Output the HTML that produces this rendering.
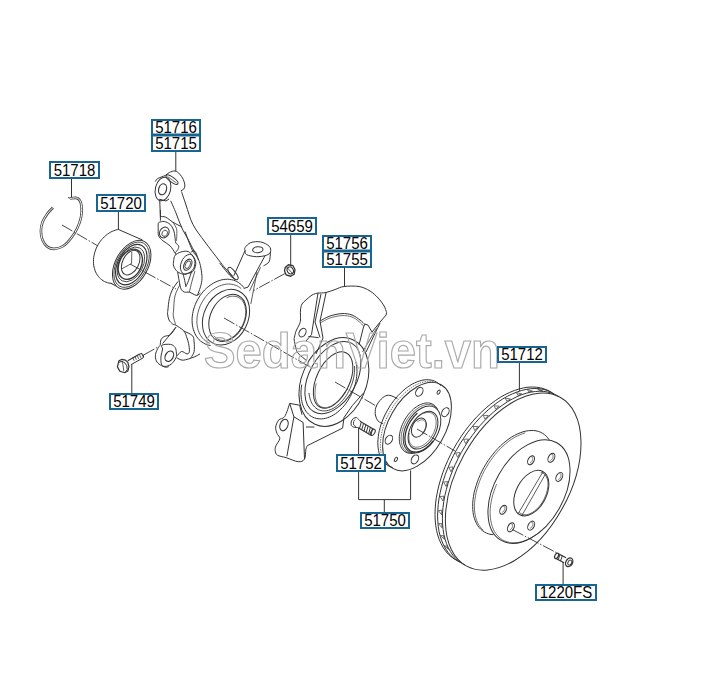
<!DOCTYPE html>
<html><head><meta charset="utf-8"><style>
html,body{margin:0;padding:0;background:#fff;width:709px;height:699px;overflow:hidden}
svg{display:block}
text{font-family:"Liberation Sans",sans-serif;font-size:15px;fill:#000}
.lbl{opacity:0.99}
</style></head><body>
<svg width="709" height="699" viewBox="0 0 709 699">
<g fill="none" stroke="#333" stroke-width="1">
<path d="M175.8 152 L175.8 171.4" />
<path d="M71.5 179 L71.5 197.5" />
<path d="M118.4 212 L118.4 229.3" />
<path d="M290.7 235 L290.7 265.7" />
<path d="M344.5 268 L344.5 286.5" />
<path d="M519.4 363 L519.4 390.9" />
<path d="M131.8 364.6 L131.8 393" />
<path d="M358.6 427.7 L358.6 454" />
<path d="M563.1 562 L563.1 584" />
<path d="M410.6 470.4 L410.6 499.6" />
<path d="M384.3 499.6 L384.3 512" />
<path d="M358.6 472 L358.6 499.6 L410.6 499.6" />
<path d="M68 197.5 L71.5 198.8" />
<path d="M155.2 181.6 C155.6 181.1 156.4 179.5 157.4 178.7 C158.4 177.9 160.1 177.6 161.4 177 C162.8 176.4 164.2 176.1 165.5 175.3 C166.8 174.5 167.9 173.1 169.5 172.4 C171.1 171.7 173.5 170.7 175.2 171 C176.9 171.3 178.5 172.8 179.8 174.2 C181.1 175.6 182.3 177.5 183.2 179.3 C184 181.1 184.8 183.4 184.9 185 C185 186.6 184.5 188 183.8 189 C183.1 190 181.4 190.5 180.9 190.8" />
<ellipse cx="163" cy="189" rx="12" ry="7.6" transform="rotate(-76 163 189)" />
<ellipse cx="162.6" cy="189.3" rx="5.6" ry="3.9" transform="rotate(-72 162.6 189.3)" stroke-width="1.2"/>
<ellipse cx="172" cy="179.6" rx="7.2" ry="2.4" transform="rotate(36 172 179.6)" />
<path d="M167.5 176.5 L176.5 183" stroke-width="0.7"/>
<path d="M159.7 199.3 L166 201 L169 199" />
<path d="M159.7 199.3 L160.4 217.2" />
<path d="M181.5 191.5 C182.2 193.8 184.1 199.5 186 205 C187.9 210.5 189.7 218.2 192.9 224.4 C196.1 230.6 200.7 236.1 205 242 C209.3 247.9 215.4 255.7 218.7 260 C222 264.3 222.6 265.2 225 268 C227.4 270.8 231.7 275.1 233 276.5" />
<path d="M170.7 200.8 C171.6 202.8 174.2 208.6 176 213 C177.8 217.4 179.2 222.2 181.5 227.2 C183.8 232.2 187.2 237.5 190 243 C192.8 248.5 197.2 257.2 198.6 260" />
<path d="M160.4 210 L160.4 220.7" />
<path d="M160.4 216.4 C161.3 216.6 163.7 216.2 165.7 217.2 C167.8 218.1 170.2 220.5 172.9 222.2 C175.6 223.8 180.6 226.3 182.2 227.2" />
<path d="M159.3 222.2 C159.1 222.4 158.4 222.3 158.2 223.6 C158.1 224.9 158.2 228 158.2 230 C158.3 232.1 157.8 234 158.6 235.8 C159.4 237.6 161 239.1 162.9 240.8 C164.8 242.4 168 243.8 170 245.8 C172.1 247.8 174 251.4 175 252.9 C176.1 254.5 176.2 254.7 176.5 255" />
<path d="M159.3 222.2 C160.1 222.1 162.5 221.1 164.3 221.5 C166.1 221.8 168.5 222.9 170 224.3 C171.6 225.8 172.8 227.9 173.6 230 C174.4 232.2 174.7 235.1 175 237.2 C175.4 239.3 175.2 241.5 175.8 242.9 C176.4 244.4 178.3 244.7 178.6 245.8 C179 246.9 178.5 248.2 177.9 249.4 C177.3 250.6 175.5 252.3 175 252.9" />
<path d="M172.9 222.2 C173.5 223.2 175.8 226.5 176.5 228.6 C177.1 230.8 176.8 233 176.8 235.1 C176.8 237.1 176.5 239.8 176.5 240.8" stroke-width="0.8"/>
<ellipse cx="164.3" cy="232.5" rx="5.6" ry="4.6" transform="rotate(-60 164.3 232.5)" />
<ellipse cx="164.7" cy="233.3" rx="3.2" ry="2.6" transform="rotate(-60 164.7 233.3)" stroke-width="0.8"/>
<path d="M175.2 255.2 C176.4 253.8 178.8 252.7 180.7 252.1 C182.7 251.4 185.3 251 187 251.3 C188.7 251.6 189.7 252.3 191 253.7 C192.3 255 194.1 257.3 194.9 259.2 C195.7 261 195.9 262.7 195.7 264.7 C195.4 266.6 194.5 269.5 193.3 271 C192.1 272.4 190.3 272.8 188.6 273.3 C186.9 273.8 184.9 274.4 183.1 274.1 C181.3 273.8 179.2 273.1 177.6 271.8 C176 270.4 174.3 268.1 173.7 266.2 C173 264.4 173.4 262.6 173.7 260.7 C173.9 258.9 174 256.7 175.2 255.2Z" />
<path d="M191 254.4 C192.8 255.1 194.6 258.9 194.9 261.5 C195.2 264.1 194.4 268.1 192.5 270.2 C190.7 272.3 185.9 274.6 183.9 274.1 C181.9 273.6 180.3 269.8 180.3 267 C180.3 264.3 182.1 259.7 183.9 257.6 C185.7 255.5 189.1 253.8 191 254.4Z" />
<ellipse cx="187.8" cy="264.7" rx="6" ry="3.6" transform="rotate(-62 187.8 264.7)" />
<ellipse cx="187.8" cy="264.7" rx="4.2" ry="2.2" transform="rotate(-62 187.8 264.7)" stroke-width="0.8"/>
<path d="M191 252.1 C191.6 251.9 193.7 250.2 194.9 251.3 C196.1 252.3 197.1 256 198 258.4 C199 260.7 199.7 262.4 200.4 265.5 C201.1 268.5 201.8 273.3 202 276.5 C202.1 279.6 201.8 281.5 201.2 284.3 C200.5 287.2 198.8 291.9 198 293.8 C197.3 295.6 196.7 295.1 196.5 295.4" />
<path d="M177.6 271.8 C177.8 272.9 178.4 276.6 178.8 278.8 C179.2 281.1 179.5 283.3 179.9 285.1 C180.4 287 180.7 288.7 181.5 289.8 C182.3 291 183.4 291.8 184.7 292.2 C186 292.6 187.4 291.7 189.4 292.2 C191.4 292.7 194.6 295.2 196.5 295.4 C198.3 295.5 199.7 293.4 200.4 293" />
<path d="M183.1 274.1 C183.4 275.2 184.2 278.3 184.7 280.4 C185.1 282.5 185.7 285.7 185.8 286.7" />
<path d="M191.8 271 C191.2 272.5 189.6 277.8 188.6 280.4 C187.6 283 186.3 285.7 185.8 286.7" />
<path d="M194.9 271 C194.4 272.8 192.7 278.4 191.8 282 C190.8 285.5 189.8 290.5 189.4 292.2" stroke-width="0.8"/>
<path d="M185 231.5 C186.2 234.6 190.3 245.9 192.2 250 C194.1 254.1 195.8 254.8 196.5 255.8" />
<path d="M177.9 281.5 C176.9 282.9 173.6 287.2 172.2 290.1 C170.8 293 170 295.4 169.3 298.7 C168.6 302 168.2 307.4 167.9 310 C167.6 312.6 167.4 312.4 167.6 314.1 C167.8 315.8 168.2 318.4 169 320 C169.8 321.6 171.5 323.2 172.6 324 C173.7 324.8 175 324.8 175.5 325" />
<path d="M180 284.4 C179.2 286.3 176.1 291.5 175 295.8 C173.9 300.1 173.9 306.6 173.6 310 C173.3 313.4 173 313.7 173.3 316 C173.6 318.3 175.1 322.7 175.4 324" stroke-width="0.8"/>
<path d="M160.2 345.2 C160.4 344.3 160.4 341.1 161 339.7 C161.7 338.2 162.6 337.4 164.2 336.5 C165.7 335.7 168.5 336.1 170.5 334.6 C172.4 333 175.1 328.3 176 327.1" />
<path d="M162.6 343.6 C163.8 342.2 167.5 337.7 169.7 335 C171.9 332.2 174.9 328.4 176 327.1" />
<path d="M175.2 324.7 C176.6 325.8 181.9 328.8 183.9 331 C185.8 333.3 186.2 336 187 338.1 C187.8 340.2 188.2 341.4 188.6 343.6 C189 345.9 189.6 349.8 189.4 351.5 C189.1 353.2 188.3 353.9 187 353.9 C185.7 353.9 183.2 351.1 181.5 351.5 C179.8 351.9 177.6 355.4 176.8 356.2" />
<path d="M183.9 331 C185.3 331.8 190.8 333.9 192.5 335.7 C194.2 337.6 193.8 339.4 194.1 342 C194.4 344.7 194.6 348.9 194.1 351.5 C193.6 354.1 191.5 356.7 190.9 357.8" />
<path d="M176.8 357.8 C177.8 358.2 180.2 360.3 183.1 360.2 C186 360 191.3 358.1 194.1 357 C196.9 356 199 354.4 200 353.9" />
<path d="M160.2 345.2 C159.8 345.7 158.7 346.8 157.9 348.3 C157.1 349.9 155.8 352.5 155.5 354.6 C155.2 356.7 155.5 359.2 156.3 360.9 C157.1 362.7 158.7 363.8 160.2 364.9 C161.8 365.9 164.3 367 165.7 367.2 C167.2 367.5 168.4 366.6 168.9 366.5" />
<path d="M161.8 345.2 C163.1 344.4 168.2 344 170.5 344.4 C172.7 344.8 174.2 346.1 175.2 347.6 C176.2 349 176.2 351.4 176.4 353.1 C176.5 354.8 176.8 356 176 357.8 C175.1 359.6 173.1 362.7 171.3 364.1 C169.4 365.5 166.6 366.5 165 366.5 C163.3 366.5 162.1 365.8 161.4 364.1 C160.8 362.4 160.8 358.7 161 356.2 C161.2 353.7 162.5 351 162.6 349.1 C162.7 347.3 160.5 346 161.8 345.2Z" fill="#fff"/>
<ellipse cx="169.3" cy="356.2" rx="5.5" ry="3.9" transform="rotate(-62 169.3 356.2)" stroke-width="1.2"/>
<path d="M210.6 345.5 L208.8 345.2 L207 344.7 L205.2 344 L203.6 343.1 L202 342.1 L200.5 341 L199.1 339.7 L197.9 338.3 L196.7 336.7 L195.7 335.1 L194.8 333.3 L194 331.4 L193.3 329.4 L192.8 327.3 L192.4 325.2 L192.2 323 L192.1 320.7 L192.1 318.4 L192.3 316.1 L192.7 313.7 L193.1 311.4 L193.7 309 L194.5 306.7 L195.3 304.4 L196.3 302.1 L197.5 299.9 L198.7 297.8 L200 295.7 L201.5 293.7 L203 291.8 L204.6 290 L206.4 288.3 L208.1 286.8 L210 285.4 L211.9 284.1 L213.8 282.9 L215.8 281.9 L217.8 281.1 L219.8 280.4 L221.8 279.8 L223.8 279.5 L225.8 279.3 L227.7 279.2 L229.7 279.4 L231.5 279.7 L233.4 280.1 L235.1 280.8 L236.8 281.5 L238.4 282.5 L239.9 283.6 L241.4 284.8 L242.7 286.2 L243.9 287.7" />
<path d="M209.8 343.3 L208.2 342.6 L206.7 341.7 L205.3 340.7 L204 339.6 L202.8 338.4 L201.7 337 L200.7 335.6 L199.8 334 L199 332.3 L198.3 330.6 L197.8 328.7 L197.4 326.8 L197.1 324.8 L196.9 322.8 L196.9 320.7 L197 318.6 L197.2 316.4 L197.6 314.3 L198.1 312.2 L198.7 310 L199.4 307.9 L200.2 305.8 L201.2 303.8 L202.3 301.8 L203.5 299.9 L204.7 298 L206.1 296.3 L207.5 294.6 L209.1 293 L210.6 291.6 L212.3 290.2 L214 289 L215.8 287.9 L217.5 286.9 L219.4 286 L221.2 285.4 L223 284.8 L224.9 284.4 L226.7 284.1 L228.5 284 L230.3 284.1 L232 284.3 L233.7 284.7 L235.3 285.2 L236.9 285.8 L238.4 286.6 L239.8 287.5 L241.2 288.6" stroke-width="0.8"/>
<ellipse cx="226" cy="317.2" rx="29.1" ry="22" transform="rotate(-63.1 226 317.2)" />
<ellipse cx="227.6" cy="317.9" rx="24.7" ry="17.2" transform="rotate(-64.7 227.6 317.9)" />
<path d="M226.6 297.8 L227.8 297.3 L229 296.8 L230.2 296.5 L231.4 296.3 L232.6 296.2 L233.8 296.2 L235 296.3 L236.1 296.5 L237.1 296.8 L238.2 297.2 L239.1 297.8 L240.1 298.4 L240.9 299.1 L241.7 299.9 L242.5 300.8 L243.1 301.8 L243.7 302.9 L244.3 304 L244.7 305.3 L245.1 306.5 L245.3 307.9 L245.5 309.3 L245.7 310.7 L245.7 312.2 L245.6 313.7 L245.5 315.2 L245.3 316.7 L244.9 318.3 L244.6 319.8 L244.1 321.3 L243.5 322.9 L242.9 324.4 L242.2 325.8 L241.5 327.3 L240.6 328.6 L239.7 330 L238.8 331.3 L237.8 332.5 L236.8 333.6 L235.7 334.7 L234.5 335.7 L233.4 336.6 L232.2 337.4 L231 338.2 L229.8 338.8 L228.6 339.3 L227.4 339.8 L226.2 340.1 L225 340.3 L223.8 340.4 L222.6 340.4 L221.4 340.3 L220.3 340.1 L219.3 339.8 L218.2 339.4 L217.3 338.8 L216.3 338.2 L215.5 337.5 L214.7 336.7 L213.9 335.8" stroke-width="0.8"/>
<path d="M245.1 250.4 C245.1 249.9 244.1 248.9 245.1 247.6 C246.1 246.3 248.2 243.5 250.8 242.6 C253.4 241.7 257.6 241.3 260.6 241.9 C263.7 242.5 267.5 244.5 269.1 246.2 C270.8 247.8 271 250.3 270.5 251.8 C270 253.3 268.7 254.5 266.3 255.3 C263.9 256.1 259.7 256.8 256.4 256.7 C253.1 256.6 248.4 255.6 246.5 254.6 C244.6 253.6 245.3 251.1 245.1 250.4" />
<ellipse cx="257.8" cy="249.7" rx="5.2" ry="3" transform="rotate(-5 257.8 249.7)" />
<path d="M245.1 250.4 L233.8 275.8" />
<path d="M270.5 251.8 C270.3 253.5 270.3 259.4 269.1 261.7 C267.9 264 264.4 265.2 263.5 265.9" />
<path d="M264.9 256 L248 287.1 L243.7 288.5" />
<path d="M260.6 267.3 L249.4 291.3" stroke-width="0.8"/>
<path d="M257 272 L250.8 304" stroke-width="0.8"/>
<path d="M219.7 263.1 C221.3 265.1 227 272.4 229.6 275.1 C232.2 277.8 234.4 278.6 235.3 279.3" />
<ellipse cx="233" cy="273.5" rx="7.5" ry="2.6" transform="rotate(52 233 273.5)" />
<path d="M318 293 C319.3 292.9 323.1 293.1 326 292.5 C328.9 291.9 332.1 290.5 335.1 289.5 C338.1 288.5 340 287 344 286.5 C348 286 354.7 285.8 359 286.5 C363.3 287.2 366.8 289.1 370 291 C373.2 292.9 375.8 295.5 378.1 298 C380.5 300.5 382.7 303.6 384.1 306 C385.5 308.4 386.2 311.4 386.6 312.5 L386.1 315 L380 322.1 L372 332.1 L368 325.1 L365 324.1 L363.5 327 L359 345" />
<path d="M380 323 L366 352" />
<path d="M376.5 328.5 L362.5 352" stroke-width="0.8"/>
<path d="M320 321.1 C321.7 320.2 326.3 317.2 330 316 C333.7 314.8 338.3 313.8 342 313.6 C345.7 313.4 349 313.9 352 315 C355 316.1 357.8 318.4 360 320 C362.2 321.6 364.2 323.8 365 324.6" />
<path d="M320 323.1 C321.7 322.2 326.3 319.2 330 318 C333.7 316.8 338.3 315.8 342 315.6 C345.7 315.4 349.2 316 352 317 C354.8 318 357.1 320 359 321.5 C360.9 323 362.8 325.2 363.5 326" stroke-width="0.7"/>
<path d="M318 293 C317 293.3 314 293.8 312 295 C310 296.2 307.7 298.5 306 300 C304.3 301.5 302.9 302.3 302 304 C301.1 305.7 300.8 307.3 300.5 310 C300.2 312.7 300.7 317.6 300.5 320 C300.3 322.4 300.2 322.2 299.5 324.1 C298.8 326 296.8 328.9 296 331.1 C295.2 333.3 294.8 335.6 294.5 337.1 C294.2 338.6 293.9 338.2 294.2 340 C294.4 341.8 295.4 345.8 296 348 C296.6 350.2 296.2 351.1 298 353.2 C299.8 355.3 305.5 359.6 307 360.9" />
<path d="M318 293 L311.5 334.6 L306 341" />
<path d="M321 294 L315 322 L320 337.5" />
<path d="M326.1 292.5 L320 321.1 L323 338 L316 354" />
<path d="M308.4 336.4 L318.7 337.7" />
<ellipse cx="302.5" cy="332.6" rx="4.6" ry="3.2" transform="rotate(-60 302.5 332.6)" />
<ellipse cx="333.9" cy="382" rx="46.4" ry="32.1" transform="rotate(-65.8 333.9 382)" />
<path d="M355.9 362 L356.4 364.2 L356.7 366.4 L356.9 368.8 L357 371.2 L356.9 373.7 L356.7 376.3 L356.4 378.8 L355.9 381.4 L355.3 384 L354.5 386.6 L353.6 389.1 L352.6 391.6 L351.5 394.1 L350.3 396.5 L348.9 398.9 L347.5 401.1 L346 403.3 L344.4 405.4 L342.7 407.3 L340.9 409.1 L339.1 410.8 L337.3 412.4 L335.4 413.8 L333.4 415 L331.5 416.1 L329.5 417 L327.5 417.7 L325.5 418.3 L323.6 418.7 L321.7 418.9 L319.8 418.9 L318 418.7 L316.2 418.4 L314.4 417.9 L312.8 417.2 L311.2 416.3 L309.8 415.3 L308.4 414 L307.1 412.7 L305.9 411.2 L304.9 409.5 L303.9 407.7 L303.1 405.8 L302.4 403.8 L301.9 401.6 L301.4 399.4 L301.2 397.1 L301 394.7 L301 392.2 L301.1 389.7 L301.4 387.1 L301.8 384.6" />
<ellipse cx="332.9" cy="377.6" rx="39.1" ry="23.6" transform="rotate(-61 332.9 377.6)" />
<path d="M354.5 366.1 L354.6 368.1 L354.6 370.2 L354.4 372.3 L354.2 374.4 L353.9 376.6 L353.4 378.8 L352.9 381 L352.2 383.2 L351.4 385.4 L350.6 387.5 L349.6 389.6 L348.6 391.6 L347.5 393.6 L346.3 395.6 L345 397.4 L343.7 399.2 L342.3 400.8 L340.9 402.4 L339.4 403.8 L337.9 405.1 L336.3 406.4 L334.8 407.4 L333.2 408.4 L331.6 409.2 L330 409.8 L328.4 410.3 L326.8 410.7 L325.3 410.9 L323.8 410.9 L322.3 410.8 L320.9 410.5 L319.5 410.1 L318.2 409.6 L317 408.9 L315.8 408 L314.7 407 L313.7 405.9 L312.7 404.7 L311.9 403.3 L311.2 401.8 L310.5 400.2 L310 398.5 L309.6 396.7 L309.2 394.9 L309 392.9" stroke-width="0.9"/>
<ellipse cx="333.1" cy="380" rx="30.2" ry="16.6" transform="rotate(-64.8 333.1 380)" />
<path d="M345.2 391.6 L344.1 393.3 L343 395 L341.8 396.6 L340.6 398.1 L339.4 399.5 L338.1 400.8 L336.9 402 L335.6 403.1 L334.2 404.1 L332.9 405 L331.6 405.8 L330.3 406.4 L329 406.9 L327.8 407.3 L326.5 407.5 L325.3 407.6 L324.2 407.6 L323 407.4 L322 407.1 L321 406.7 L320.1 406.1 L319.2 405.5 L318.4 404.6 L317.7 403.7 L317 402.7 L316.5 401.5 L316 400.2 L315.6 398.9 L315.3 397.4 L315.1 395.9 L315 394.2 L315 392.6 L315.1 390.8 L315.2 389 L315.5 387.2 L315.8 385.3 L316.3 383.4" stroke-width="0.7"/>
<path d="M289.7 403.4 C288.9 405.6 286.6 413.8 284.7 416.5 C282.9 419.3 280.3 418.2 278.8 419.9 C277.3 421.6 276 424.7 275.7 427 C275.4 429.2 276.3 431.5 277 433.4 C277.7 435.4 280 436.6 279.8 438.7 C279.6 440.7 276.8 443.7 276 445.7 C275.2 447.7 274.9 449.1 275.2 450.6 C275.4 452.2 275.6 454 277.4 455.2 C279.2 456.3 282.7 456.6 286.2 457.7 C289.6 458.8 295.1 461.4 298.1 461.7 C301.2 461.9 303.2 461.2 304.5 459.1 C305.8 457 305.4 451.5 305.9 449.2 C306.4 447 307.1 446.3 307.3 445.7" />
<path d="M307.3 445.7 L342.6 428.1 L344 417.5 L352.4 405.5 L363.7 392.8" />
<path d="M289.7 403.4 L293.9 416.8 L303.1 422.4 L304.5 459.1" />
<path d="M293.9 416.8 L286.9 456.3" />
<path d="M289.7 403.4 L299.6 405.2 L302 414.7" />
<path d="M305.9 427 L314.4 427" />
<ellipse cx="284" cy="425" rx="6" ry="3.9" transform="rotate(-68 284 425)" />
<path d="M397.5 398.6 C396.2 398.1 392.2 395.8 390 395.4 C387.8 395 386.2 395.4 384.3 396.5 C382.4 397.6 380 400.3 378.6 402.2 C377.2 404.1 376.2 405.8 375.7 407.9 C375.2 410 375 412.9 375.4 415 C375.8 417.1 376.6 419.3 377.9 420.8 C379.2 422.3 382.3 423.3 383.2 423.8" />
<ellipse cx="417" cy="426.6" rx="48.3" ry="28.3" transform="rotate(-60 417 426.6)" fill="#fff"/>
<path d="M392.7 467.5 L390.8 466.9 L388.9 466.1 L387.2 465.1 L385.6 463.9 L384.1 462.5 L382.8 460.9 L381.6 459.1 L380.6 457.2 L379.7 455 L379 452.8 L378.5 450.3 L378.1 447.8 L377.9 445.1 L377.8 442.3 L378 439.5 L378.3 436.5 L378.7 433.5 L379.4 430.4 L380.2 427.4 L381.1 424.2 L382.3 421.1 L383.5 418 L384.9 415 L386.5 411.9 L388.2 409 L389.9 406.1 L391.8 403.3 L393.8 400.6 L395.9 398 L398.1 395.5 L400.4 393.2 L402.7 391.1 L405 389 L407.4 387.2 L409.8 385.6 L412.2 384.1 L414.7 382.9 L417.1 381.8 L419.5 381 L421.8 380.3 L424.1 379.9 L426.4 379.7 L428.5 379.7 L430.6 380 L432.6 380.4 L434.5 381.1 L436.3 382 L438 383.1 L439.5 384.4 L441 385.9" />
<path d="M388.6 465.7 L387.1 464.4 L385.7 462.9 L384.5 461.1 L383.4 459.2 L382.5 457.2 L381.7 454.9 L381.1 452.6 L380.7 450.1 L380.4 447.4 L380.3 444.7 L380.4 441.9 L380.7 439 L381.1 436 L381.7 432.9 L382.4 429.9 L383.3 426.8 L384.4 423.7 L385.6 420.6 L386.9 417.5 L388.4 414.5 L390 411.5 L391.8 408.6 L393.6 405.8 L395.6 403 L397.6 400.4 L399.8 397.9 L402 395.6 L404.3 393.3 L406.6 391.3 L409 389.4 L411.4 387.7 L413.8 386.1 L416.2 384.8 L418.6 383.7 L421 382.7 L423.3 382 L425.7 381.5 L427.9 381.2 L430.1 381.1 L432.2 381.3 L434.3 381.6" stroke-width="0.7" stroke-dasharray="1.5 1"/>
<ellipse cx="419.3" cy="391.8" rx="4.8" ry="3.3" transform="rotate(-60 419.3 391.8)" />
<ellipse cx="445.4" cy="412.2" rx="4.8" ry="3.3" transform="rotate(-60 445.4 412.2)" />
<ellipse cx="388.9" cy="439.7" rx="4.8" ry="3.3" transform="rotate(-60 388.9 439.7)" />
<ellipse cx="414.9" cy="459.4" rx="4.8" ry="3.3" transform="rotate(-60 414.9 459.4)" />
<ellipse cx="438.6" cy="392.2" rx="2.3" ry="1.3" transform="rotate(-60 438.6 392.2)" />
<ellipse cx="396" cy="459.4" rx="2.3" ry="1.3" transform="rotate(-60 396 459.4)" />
<path d="M414.7 453 L413.3 453.3 L412 453.4 L410.7 453.4 L409.4 453.3 L408.2 453.1 L407.1 452.7 L406 452.2 L404.9 451.6 L404 450.9 L403.1 450.1 L402.3 449.1 L401.6 448.1 L401 446.9 L400.5 445.7 L400 444.4 L399.7 443 L399.5 441.5 L399.3 439.9 L399.3 438.3 L399.3 436.6 L399.5 434.9 L399.8 433.2 L400.1 431.4 L400.6 429.7 L401.1 427.9 L401.7 426.1 L402.5 424.3 L403.3 422.6 L404.2 420.8 L405.1 419.2 L406.2 417.5 L407.3 415.9 L408.4 414.4 L409.6 412.9 L410.9 411.6 L412.2 410.3 L413.5 409 L414.9 407.9 L416.3 406.9 L417.7 406 L419.1 405.2 L420.5 404.5 L421.9 404 L423.3 403.5 L424.7 403.2 L426.1 403 L427.4 402.9 L428.7 403 L429.9 403.2 L431.1 403.5 L432.2 403.9 L433.2 404.5 L434.2 405.2 L435.1 405.9 L435.9 406.8 L436.7 407.9 L437.3 409 L437.9 410.2" />
<path d="M412.6 453.1 L411.4 453.1 L410.2 452.9 L409.1 452.6 L408 452.2 L407 451.7 L406.1 451.1 L405.2 450.4 L404.4 449.5 L403.7 448.6 L403.1 447.5 L402.5 446.4 L402 445.2 L401.7 443.9 L401.4 442.5 L401.2 441 L401.1 439.5 L401.1 438 L401.2 436.3 L401.4 434.7 L401.7 433 L402.1 431.3 L402.6 429.6 L403.2 427.9 L403.8 426.2 L404.5 424.5 L405.3 422.8 L406.2 421.2 L407.2 419.6 L408.2 418 L409.3 416.5 L410.4 415.1 L411.6 413.7 L412.8 412.4 L414.1 411.2 L415.4 410 L416.7 409 L418 408 L419.4 407.2 L420.7 406.5 L422.1 405.9 L423.4 405.3 L424.7 405 L426 404.7 L427.3 404.5 L428.5 404.5 L429.7 404.6 L430.9 404.8 L432 405.1 L433 405.6 L434 406.1 L434.9 406.8 L435.8 407.6" stroke-width="0.7"/>
<ellipse cx="422" cy="429.5" rx="25.5" ry="16" transform="rotate(-60 422 429.5)" />
<path d="M433 440.9 L432 442.2 L431 443.5 L429.9 444.6 L428.8 445.8 L427.6 446.8 L426.4 447.8 L425.2 448.6 L424 449.4 L422.8 450.1 L421.5 450.7 L420.3 451.2 L419.1 451.5 L417.9 451.8 L416.8 452 L415.6 452.1 L414.5 452 L413.4 451.9 L412.4 451.6 L411.4 451.3 L410.5 450.8 L409.6 450.2 L408.8 449.6 L408.1 448.8 L407.4 447.9 L406.8 447 L406.3 446 L405.9 444.9 L405.5 443.7 L405.3 442.5 L405.1 441.2 L405 439.8 L404.9 438.4 L405 437 L405.2 435.5 L405.4 434 L405.7 432.5 L406.1 430.9 L406.6 429.4 L407.2 427.8 L407.8 426.3 L408.5 424.8 L409.3 423.3 L410.1 421.9 L411 420.5 L412 419.1 L413 417.8 L414 416.5 L415.1 415.4 L416.2 414.2 L417.4 413.2" stroke-width="1.3"/>
<ellipse cx="423" cy="430.2" rx="20.5" ry="12.5" transform="rotate(-60 423 430.2)" />
<path d="M423.5 413.6 L424.4 413.2 L425.4 412.9 L426.3 412.6 L427.2 412.5 L428.1 412.4 L428.9 412.4 L429.8 412.5 L430.5 412.7 L431.3 413 L432 413.3 L432.7 413.8 L433.3 414.3 L433.8 414.9 L434.3 415.5 L434.8 416.3 L435.2 417.1 L435.5 417.9 L435.7 418.8 L435.9 419.8 L436.1 420.8 L436.1 421.9 L436.1 423 L436.1 424.1 L435.9 425.3 L435.7 426.5 L435.5 427.7 L435.1 428.9 L434.7 430.1 L434.3 431.3 L433.8 432.5 L433.2 433.7 L432.6 434.9 L431.9 436 L431.2 437.1 L430.5 438.2 L429.7 439.3 L428.9 440.3 L428 441.2 L427.1 442.1 L426.2 442.9 L425.3 443.7 L424.4 444.4 L423.4 445 L422.5 445.6 L421.5 446 L420.6 446.4 L419.6 446.7 L418.7 447 L417.8 447.1 L416.9 447.2 L416.1 447.2 L415.2 447.1 L414.5 446.9 L413.7 446.6 L413 446.3 L412.3 445.8 L411.7 445.3 L411.2 444.7 L410.7 444.1 L410.2 443.3 L409.8 442.5 L409.5 441.7 L409.3 440.8 L409.1 439.8 L408.9 438.8 L408.9 437.7 L408.9 436.6 L408.9 435.5 L409.1 434.3 L409.3 433.1" stroke-width="0.7"/>
<ellipse cx="418.9" cy="427.6" rx="10.2" ry="6.6" transform="rotate(-62 418.9 427.6)" />
<path d="M417.5 421.9 L418 421.6 L418.4 421.2 L418.8 420.9 L419.3 420.6 L419.7 420.4 L420.1 420.2 L420.6 420.1 L421 419.9 L421.4 419.9 L421.9 419.8 L422.3 419.8 L422.6 419.9 L423 420 L423.4 420.1 L423.7 420.2 L424.1 420.4 L424.4 420.7 L424.6 420.9 L424.9 421.2 L425.1 421.6 L425.3 421.9 L425.5 422.3 L425.6 422.8 L425.7 423.2 L425.8 423.7 L425.9 424.2 L425.9 424.7 L425.9 425.2 L425.9 425.8 L425.8 426.3 L425.7 426.9 L425.6 427.4 L425.4 428 L425.2 428.6 L425 429.1 L424.8 429.7 L424.5 430.3 L424.2 430.8 L423.9 431.3 L423.6 431.8 L423.2 432.3 L422.9 432.8 L422.5 433.3 L422.1 433.7 L421.7 434.1" stroke-width="0.7"/>
<path d="M360 421.2 L373.2 428.9" stroke-width="1.1"/>
<path d="M358.3 427.7 L370.9 435.2" stroke-width="1.1"/>
<ellipse cx="372.9" cy="432.3" rx="3.4" ry="1.9" transform="rotate(-60 372.9 432.3)" fill="#fff"/>
<path d="M361.2 422.3 L359.5 428.6 M363.5 423.6 L361.7 429.9 M365.8 424.9 L364 431.2 M368 426.3 L366.3 432.5 M370.3 427.6 L368.6 433.9 M372.6 428.9 L370.9 435.2" stroke-width="1.0"/>
<path d="M356.6 417.4 C356 417.6 354.1 417.8 353.2 418.6 C352.3 419.3 351.4 420.9 351.2 422 C350.9 423.2 351 424.6 351.4 425.5 C351.9 426.3 352.6 426.8 353.7 427.2 C354.9 427.5 357.5 427.4 358.3 427.5" />
<path d="M356.6 417.4 C357 417.8 358.2 419.1 358.9 419.7 C359.6 420.4 360.3 421.2 360.6 421.4" />
<path d="M355.5 419.2 C355.2 419.5 354 420.5 353.7 421.4 C353.4 422.4 353.4 424 353.7 424.9 C354.1 425.7 355.6 426.3 356 426.6" stroke-width="0.9"/>
<ellipse cx="513.2" cy="481.6" rx="96.5" ry="56" transform="rotate(-60.9 513.2 481.6)" />
<path d="M465 565.1 L461.6 563.2 L458.4 560.9 L455.5 558.2 L452.8 555.1 L450.4 551.6 L448.3 547.8 L446.5 543.7 L445.1 539.3 L443.9 534.5 L443.1 529.5 L442.6 524.3 L442.4 518.8 L442.5 513.2 L443 507.4 L443.8 501.4 L444.9 495.4 L446.4 489.3 L448.1 483.1 L450.2 476.9 L452.5 470.7 L455.2 464.6 L458.1 458.6 L461.2 452.6 L464.6 446.8 L468.2 441.1 L472.1 435.7 L476.1 430.4 L480.2 425.4 L484.6 420.7 L489 416.2 L493.5 412.1 L498.2 408.3 L502.9 404.8 L507.6 401.7 L512.3 399 L517 396.6 L521.7 394.7 L526.3 393.2 L530.9 392.1 L535.4 391.5 L539.7 391.2 L543.9 391.4 L547.9 392.1 L551.7 393.1 L555.4 394.6 L558.8 396.5" />
<path d="M460.2 562.3 L456.8 560.4 L453.6 558.1 L450.7 555.4 L448 552.3 L445.7 548.9 L443.6 545.1 L441.8 540.9 L440.3 536.5 L439.1 531.8 L438.3 526.8 L437.8 521.5 L437.6 516.1 L437.8 510.4 L438.2 504.6 L439 498.7 L440.2 492.6 L441.6 486.5 L443.4 480.3 L445.4 474.2 L447.8 468 L450.4 461.9 L453.3 455.8 L456.5 449.9 L459.9 444 L463.5 438.4 L467.3 432.9 L471.3 427.7 L475.5 422.7 L479.8 417.9 L484.2 413.5 L488.8 409.3 L493.4 405.5 L498.1 402 L502.8 398.9 L507.5 396.2 L512.3 393.9 L517 392 L521.6 390.5 L526.1 389.4 L530.6 388.7 L534.9 388.5 L539.1 388.7 L543.1 389.3 L547 390.4 L550.6 391.9 L554 393.8" />
<path d="M457.6 560.8 L454.2 558.9 L451 556.6 L448.1 553.9 L445.4 550.8 L443.1 547.4 L441 543.6 L439.2 539.4 L437.7 535 L436.5 530.3 L435.7 525.3 L435.2 520 L435 514.6 L435.2 508.9 L435.6 503.1 L436.4 497.2 L437.6 491.1 L439 485 L440.8 478.8 L442.8 472.7 L445.2 466.5 L447.8 460.4 L450.7 454.3 L453.9 448.4 L457.3 442.5 L460.9 436.9 L464.7 431.4 L468.7 426.2 L472.9 421.2 L477.2 416.4 L481.6 412 L486.2 407.8 L490.8 404 L495.5 400.5 L500.2 397.4 L504.9 394.7 L509.7 392.4 L514.4 390.5 L519 389 L523.5 387.9 L528 387.2 L532.3 387 L536.5 387.2 L540.5 387.8 L544.4 388.9 L548 390.4 L551.4 392.3" />
<path d="M448.5 549.3 L446.9 546.1 L444.4 545.8Z M444.4 539.3 L443.4 535.6 L440.6 535.6Z M442 527.7 L441.7 523.5 L438.5 523.7Z M441.6 514.8 L441.8 510.2 L438.4 510.6Z M442.9 500.9 L443.8 496.1 L440.1 496.6Z M446.1 486.5 L447.6 481.5 L443.6 482.1Z M451.1 471.8 L453.1 466.9 L448.8 467.4Z M457.6 457.3 L460.1 452.6 L455.6 453Z M465.5 443.5 L468.5 439 L463.7 439.3Z M474.7 430.6 L478 426.5 L473 426.6Z M484.8 419 L488.4 415.5 L483.3 415.3Z M495.6 409.1 L499.3 406.2 L494.1 405.8Z M506.7 401.2 L510.5 399 L505.3 398.2Z M517.9 395.4 L521.7 393.9 L516.5 392.7Z M528.9 391.9 L532.5 391.2 L527.4 389.6Z M539.3 390.7 L542.7 390.9 L537.7 388.9Z" stroke-width="0.7"/>
<ellipse cx="529" cy="491.6" rx="56.2" ry="34.7" transform="rotate(-60.3 529 491.6)" />
<path d="M541.6 530.5 L538.9 532.7 L536.2 534.7 L533.4 536.5 L530.6 538.1 L527.8 539.5 L525.1 540.6 L522.3 541.5 L519.6 542.2 L516.9 542.6 L514.3 542.8 L511.8 542.7 L509.4 542.4 L507.1 541.8 L504.8 541 L502.7 540 L500.8 538.7 L499 537.2 L497.3 535.5 L495.8 533.5 L494.4 531.4 L493.3 529.1 L492.3 526.6 L491.5 523.9 L490.9 521.1 L490.4 518.1 L490.2 515 L490.1 511.8 L490.3 508.5 L490.6 505.2 L491.2 501.7 L491.9 498.2 L492.8 494.7 L493.9 491.2 L495.2 487.7 L496.6 484.2" stroke-width="0.7"/>
<path d="M493.4 534.7 L491 534.4 L488.7 533.9 L486.5 533.1 L484.4 532 L482.5 530.7 L480.7 529.2 L479.1 527.5 L477.6 525.5 L476.4 523.3 L475.3 520.9 L474.4 518.4 L473.6 515.6 L473.1 512.7 L472.8 509.7 L472.7 506.5 L472.7 503.2 L473 499.8 L473.5 496.3 L474.1 492.8 L475 489.2 L476.1 485.6 L477.3 481.9 L478.7 478.3 L480.3 474.6 L482 471.1 L483.9 467.5 L485.9 464.1 L488.1 460.7 L490.4 457.5 L492.8 454.3 L495.3 451.3 L497.9 448.5 L500.5 445.8 L503.3 443.3 L506.1 441 L508.9 438.9 L511.7 437 L514.6 435.4 L517.4 433.9 L520.2 432.8 L523 431.8 L525.8 431.1 L528.4 430.7 L531.1 430.5 L533.6 430.5 L536 430.8 L538.3 431.4 L540.5 432.2 L542.6 433.3 L544.5 434.6 L546.2 436.1 L547.8 437.9 L549.3 439.9" />
<path d="M483.4 530.3 L481.7 528.7 L480.2 526.9 L478.8 524.9 L477.6 522.7 L476.6 520.3 L475.8 517.7 L475.2 515 L474.7 512 L474.5 509 L474.4 505.8 L474.6 502.5 L475 499.1 L475.5 495.7 L476.2 492.1 L477.2 488.5 L478.3 484.9 L479.6 481.3 L481 477.7 L482.6 474.2 L484.4 470.6 L486.4 467.2 L488.4 463.8 L490.6 460.5 L492.9 457.3 L495.4 454.2 L497.9 451.3 L500.5 448.6 L503.1 446 L505.9 443.6 L508.6 441.4 L511.4 439.4 L514.2 437.6 L517 436.1 L519.8 434.8 L522.6 433.7 L525.3 432.8" stroke-width="0.7"/>
<ellipse cx="531.3" cy="493.1" rx="24.5" ry="15" transform="rotate(-62 531.3 493.1)" />
<path d="M540.7 472.4 L541.6 472.7 L542.5 473 L543.3 473.4 L544.1 474 L544.8 474.6 L545.4 475.3 L546 476.1 L546.5 477 L546.9 478 L547.3 479 L547.6 480.1 L547.8 481.3 L547.9 482.6 L548 483.9 L548 485.2 L547.9 486.6 L547.7 488 L547.5 489.4 L547.1 490.9 L546.7 492.4 L546.3 493.9 L545.7 495.3 L545.1 496.8 L544.5 498.3 L543.8 499.7 L543 501.1 L542.1 502.5 L541.3 503.8 L540.3 505.1 L539.4 506.3 L538.4 507.4 L537.3 508.5 L536.3 509.5 L535.2 510.5 L534.1 511.3 L533 512.1 L531.9 512.7 L530.8 513.3 L529.7 513.8 L528.6 514.2 L527.5 514.5 L526.5 514.7 L525.4 514.7 L524.4 514.7 L523.5 514.6 L522.6 514.3 L521.7 514 L520.9 513.6 L520.1 513 L519.4 512.4" stroke-width="0.8"/>
<path d="M542.8 472 L517.9 514.1 M545.4 474.2 L522.2 515" stroke-width="0.8"/>
<ellipse cx="503.2" cy="509.7" rx="4.8" ry="3" transform="rotate(-62 503.2 509.7)" />
<path d="M503.1 506.4 L503.3 506.3 L503.5 506.3 L503.6 506.3 L503.7 506.3 L503.9 506.3 L504 506.3 L504.1 506.4 L504.3 506.4 L504.4 506.5 L504.5 506.6 L504.6 506.7 L504.6 506.8 L504.7 507 L504.8 507.1 L504.8 507.2 L504.9 507.4 L504.9 507.6 L504.9 507.8 L504.9 508 L504.9 508.2 L504.9 508.4 L504.9 508.6 L504.8 508.8 L504.8 509 L504.7 509.2 L504.7 509.4 L504.6 509.6 L504.5 509.9 L504.4 510.1 L504.3 510.3 L504.2 510.5 L504 510.7 L503.9 510.9 L503.8 511.1 L503.6 511.3 L503.5 511.4 L503.3 511.6 L503.2 511.7 L503 511.9 L502.9 512 L502.7 512.1 L502.5 512.2 L502.4 512.3 L502.2 512.4 L502.1 512.4" stroke-width="0.7"/>
<ellipse cx="510.9" cy="527.3" rx="4.8" ry="3" transform="rotate(-62 510.9 527.3)" />
<path d="M510.8 524 L511 523.9 L511.2 523.9 L511.3 523.9 L511.4 523.9 L511.6 523.9 L511.7 523.9 L511.8 524 L512 524 L512.1 524.1 L512.2 524.2 L512.3 524.3 L512.3 524.4 L512.4 524.6 L512.5 524.7 L512.5 524.8 L512.6 525 L512.6 525.2 L512.6 525.4 L512.6 525.6 L512.6 525.8 L512.6 526 L512.6 526.2 L512.5 526.4 L512.5 526.6 L512.4 526.8 L512.4 527 L512.3 527.2 L512.2 527.5 L512.1 527.7 L512 527.9 L511.9 528.1 L511.7 528.3 L511.6 528.5 L511.5 528.7 L511.3 528.9 L511.2 529 L511 529.2 L510.9 529.3 L510.7 529.5 L510.6 529.6 L510.4 529.7 L510.2 529.8 L510.1 529.9 L509.9 530 L509.8 530" stroke-width="0.7"/>
<ellipse cx="531.2" cy="525.6" rx="4.8" ry="3" transform="rotate(-62 531.2 525.6)" />
<path d="M531.1 522.3 L531.3 522.2 L531.5 522.2 L531.6 522.2 L531.7 522.2 L531.9 522.2 L532 522.2 L532.1 522.3 L532.3 522.3 L532.4 522.4 L532.5 522.5 L532.6 522.6 L532.6 522.7 L532.7 522.9 L532.8 523 L532.8 523.1 L532.9 523.3 L532.9 523.5 L532.9 523.7 L532.9 523.9 L532.9 524.1 L532.9 524.3 L532.9 524.5 L532.8 524.7 L532.8 524.9 L532.7 525.1 L532.7 525.3 L532.6 525.5 L532.5 525.8 L532.4 526 L532.3 526.2 L532.2 526.4 L532 526.6 L531.9 526.8 L531.8 527 L531.6 527.2 L531.5 527.3 L531.3 527.5 L531.2 527.6 L531 527.8 L530.9 527.9 L530.7 528 L530.5 528.1 L530.4 528.2 L530.2 528.3 L530.1 528.3" stroke-width="0.7"/>
<ellipse cx="531.1" cy="460.2" rx="4.8" ry="3" transform="rotate(-62 531.1 460.2)" />
<path d="M531 456.9 L531.2 456.8 L531.4 456.8 L531.5 456.8 L531.6 456.8 L531.8 456.8 L531.9 456.8 L532 456.9 L532.2 456.9 L532.3 457 L532.4 457.1 L532.5 457.2 L532.5 457.3 L532.6 457.5 L532.7 457.6 L532.7 457.7 L532.8 457.9 L532.8 458.1 L532.8 458.3 L532.8 458.5 L532.8 458.7 L532.8 458.9 L532.8 459.1 L532.7 459.3 L532.7 459.5 L532.6 459.7 L532.6 459.9 L532.5 460.1 L532.4 460.4 L532.3 460.6 L532.2 460.8 L532.1 461 L531.9 461.2 L531.8 461.4 L531.7 461.6 L531.5 461.8 L531.4 461.9 L531.2 462.1 L531.1 462.2 L530.9 462.4 L530.8 462.5 L530.6 462.6 L530.4 462.7 L530.3 462.8 L530.1 462.9 L530 462.9" stroke-width="0.7"/>
<ellipse cx="551.4" cy="457.8" rx="4.8" ry="3" transform="rotate(-62 551.4 457.8)" />
<path d="M551.3 454.5 L551.5 454.4 L551.7 454.4 L551.8 454.4 L551.9 454.4 L552.1 454.4 L552.2 454.4 L552.3 454.5 L552.5 454.5 L552.6 454.6 L552.7 454.7 L552.8 454.8 L552.8 454.9 L552.9 455.1 L553 455.2 L553 455.3 L553.1 455.5 L553.1 455.7 L553.1 455.9 L553.1 456.1 L553.1 456.3 L553.1 456.5 L553.1 456.7 L553 456.9 L553 457.1 L552.9 457.3 L552.9 457.5 L552.8 457.7 L552.7 458 L552.6 458.2 L552.5 458.4 L552.4 458.6 L552.2 458.8 L552.1 459 L552 459.2 L551.8 459.4 L551.7 459.5 L551.5 459.7 L551.4 459.8 L551.2 460 L551.1 460.1 L550.9 460.2 L550.7 460.3 L550.6 460.4 L550.4 460.5 L550.3 460.5" stroke-width="0.7"/>
<ellipse cx="559.3" cy="476.9" rx="4.8" ry="3" transform="rotate(-62 559.3 476.9)" />
<path d="M559.2 473.6 L559.4 473.5 L559.6 473.5 L559.7 473.5 L559.8 473.5 L560 473.5 L560.1 473.5 L560.2 473.6 L560.4 473.6 L560.5 473.7 L560.6 473.8 L560.7 473.9 L560.7 474 L560.8 474.2 L560.9 474.3 L560.9 474.4 L561 474.6 L561 474.8 L561 475 L561 475.2 L561 475.4 L561 475.6 L561 475.8 L560.9 476 L560.9 476.2 L560.8 476.4 L560.8 476.6 L560.7 476.8 L560.6 477.1 L560.5 477.3 L560.4 477.5 L560.3 477.7 L560.1 477.9 L560 478.1 L559.9 478.3 L559.7 478.5 L559.6 478.6 L559.4 478.8 L559.3 478.9 L559.1 479.1 L559 479.2 L558.8 479.3 L558.6 479.4 L558.5 479.5 L558.3 479.6 L558.2 479.6" stroke-width="0.7"/>
<path d="M52.9 207.6 C52 208.7 48.9 211.5 47.2 213.9 C45.5 216.3 43.7 219 42.6 221.9 C41.5 224.8 40.9 228 40.9 231.1 C40.9 234.2 41.5 237.7 42.6 240.3 C43.7 242.9 45.3 245.2 47.2 246.6 C49.1 248 51.3 249 54 248.9 C56.7 248.8 60.3 247.8 63.2 246 C66.1 244.2 68.9 240.9 71.2 238 C73.5 235.1 75.4 232.2 77 228.8 C78.6 225.4 80.2 221.2 81 217.4 C81.8 213.6 81.8 208.9 81.5 205.9 C81.2 202.9 80.2 200.9 79.2 199.6 C78.2 198.3 77.3 198.1 75.8 197.9 C74.3 197.7 71 198.4 70.1 198.5" stroke-width="2.6" stroke="#444"/>
<path d="M52.9 207.6 C52 208.7 48.9 211.5 47.2 213.9 C45.5 216.3 43.7 219 42.6 221.9 C41.5 224.8 40.9 228 40.9 231.1 C40.9 234.2 41.5 237.7 42.6 240.3 C43.7 242.9 45.3 245.2 47.2 246.6 C49.1 248 51.3 249 54 248.9 C56.7 248.8 60.3 247.8 63.2 246 C66.1 244.2 68.9 240.9 71.2 238 C73.5 235.1 75.4 232.2 77 228.8 C78.6 225.4 80.2 221.2 81 217.4 C81.8 213.6 81.8 208.9 81.5 205.9 C81.2 202.9 80.2 200.9 79.2 199.6 C78.2 198.3 77.3 198.1 75.8 197.9 C74.3 197.7 71 198.4 70.1 198.5" stroke-width="1.0" stroke="#fff"/>
<path d="M112.3 283.5 L110.7 283.3 L109 283.1 L107.5 282.7 L105.9 282.1 L104.5 281.5 L103.1 280.7 L101.7 279.7 L100.5 278.7 L99.3 277.6 L98.3 276.3 L97.3 275 L96.4 273.5 L95.6 272 L95 270.4 L94.5 268.7 L94 267 L93.7 265.2 L93.5 263.3 L93.5 261.5 L93.5 259.6 L93.7 257.6 L94 255.7 L94.4 253.8 L94.9 251.9 L95.6 250 L96.3 248.1 L97.2 246.3 L98.2 244.6 L99.2 242.8 L100.4 241.2 L101.6 239.6 L103 238.2 L104.4 236.8 L105.8 235.5 L107.3 234.3 L108.9 233.2 L110.5 232.2 L112.2 231.4 L113.9 230.7 L115.6 230.1 L117.3 229.6 L119 229.3" />
<path d="M118.5 229.5 L142.5 240" />
<path d="M110.5 283.2 L120.5 288.2" />
<ellipse cx="131.7" cy="264.8" rx="26.5" ry="16.3" transform="rotate(-60.8 131.7 264.8)" fill="#fff"/>
<ellipse cx="131.6" cy="264.7" rx="24.6" ry="14.9" transform="rotate(-60.8 131.6 264.7)" stroke-width="0.8"/>
<ellipse cx="131.3" cy="264.6" rx="21.8" ry="13.4" transform="rotate(-61.5 131.3 264.6)" stroke-width="1.2"/>
<ellipse cx="130.9" cy="264.4" rx="18.6" ry="12" transform="rotate(-62 130.9 264.4)" stroke-width="0.8"/>
<ellipse cx="130.3" cy="264.3" rx="15.9" ry="11" transform="rotate(-63.4 130.3 264.3)" stroke-width="1.3"/>
<ellipse cx="130.7" cy="262.6" rx="13.1" ry="8.1" transform="rotate(-63.7 130.7 262.6)" />
<path d="M131.6 263.5 L131.8 251.5" stroke-width="0.8"/>
<path d="M131.6 263.5 L121.4 269" stroke-width="0.8"/>
<path d="M127.8 360.8 L139.6 353.9" stroke-width="1.2"/>
<path d="M130.8 364.8 L143.1 357.9" />
<path d="M139.6 353.9 C140.1 353.9 141.5 353.3 142.1 353.7 C142.8 354 143.4 355.2 143.6 355.9 C143.8 356.6 143.2 357.5 143.1 357.9" />
<path d="M132.7 357.4 L134.2 360.8 M135 356.4 L136.4 359.8 M137.2 355.4 L138.7 358.9 M139.4 354.4 L140.9 357.9 M141.6 353.4 L143.1 356.9" stroke-width="0.8"/>
<path d="M118.9 360.8 L121.9 359.4 L125.3 360.1 L127.8 362.3 L129 366.8 L127.8 371.2 L124.8 372.7 L119.9 371.2 L117.4 366.8 L118.4 362.8Z" fill="#fff" stroke-width="1.2"/>
<path d="M118.9 362.3 L121.9 361.3 L124.8 362.8 L126.8 365.8 L127.3 369.7 L125.3 372.2" />
<path d="M121.9 361.3 L122.9 364.3 L123.8 371.2" stroke-width="0.8"/>
<path d="M285.2 267.5 L288.5 264.8 L292.8 265.5 L295 269.5 L294.2 274.2 L290.5 276.2 L286.2 275 L284.5 271Z" fill="#fff" stroke-width="1.3"/>
<ellipse cx="290.3" cy="270.4" rx="3" ry="3.6" transform="rotate(-30 290.3 270.4)" stroke-width="1.1"/>
<path d="M286 266.5 L293.5 274.5" stroke-width="0.8"/>
<path d="M557.5 553.2 L566 557.8" stroke-width="1.2"/>
<path d="M555.5 558.2 L564 562.8" stroke-width="1.2"/>
<ellipse cx="556.6" cy="555.8" rx="2.9" ry="1.7" transform="rotate(-62 556.6 555.8)" fill="#fff" stroke-width="1.2"/>
<path d="M560 554.5 L558.2 559.8 M562.3 555.8 L560.5 561" stroke-width="1.0"/>
<ellipse cx="569.2" cy="562.3" rx="4.6" ry="3.3" transform="rotate(-62 569.2 562.3)" fill="#fff" stroke-width="1.3"/>
<ellipse cx="569.8" cy="562.6" rx="2.6" ry="1.8" transform="rotate(-62 569.8 562.6)" stroke-width="0.9"/>
<path d="M62 225 L98 246" stroke-dasharray="12 1.8 1.5 1.8" stroke-width="0.9"/>
<path d="M130 264 L176 289" stroke-dasharray="12 1.8 1.5 1.8" stroke-width="0.9"/>
<path d="M224 318 L310 367" stroke-dasharray="12 1.8 1.5 1.8" stroke-width="0.9"/>
<path d="M335 382 L377 406.5" stroke-dasharray="12 1.8 1.5 1.8" stroke-width="0.9"/>
<path d="M417 429 L455 451" stroke-dasharray="12 1.8 1.5 1.8" stroke-width="0.9"/>
<path d="M143.8 354.9 L158 347" stroke-dasharray="12 1.8 1.5 1.8" stroke-width="0.9"/>
<path d="M284.8 273.6 L253.6 290.6" stroke-dasharray="12 1.8 1.5 1.8" stroke-width="0.9"/>
<path d="M512.7 529.7 L556.9 552.9" stroke-dasharray="12 1.8 1.5 1.8" stroke-width="0.9"/>
</g>
<text x="204" y="367.5" textLength="296" lengthAdjust="spacingAndGlyphs" style="font-size:50px;font-weight:bold;fill:none;stroke:#aaa;stroke-width:1.2">SedanViet.vn</text>
<g class="lbl"><rect x="152" y="120" width="48" height="14.5" fill="#fff" stroke="#15648f" stroke-width="2"/>
<rect x="152" y="135.5" width="48" height="15.5" fill="#fff" stroke="#15648f" stroke-width="2"/>
<rect x="50" y="162" width="49" height="16" fill="#fff" stroke="#15648f" stroke-width="2"/>
<rect x="97" y="195" width="48" height="16" fill="#fff" stroke="#15648f" stroke-width="2"/>
<rect x="268" y="218" width="48" height="16" fill="#fff" stroke="#15648f" stroke-width="2"/>
<rect x="323" y="236" width="48" height="14.5" fill="#fff" stroke="#15648f" stroke-width="2"/>
<rect x="323" y="251.5" width="48" height="15.5" fill="#fff" stroke="#15648f" stroke-width="2"/>
<rect x="498" y="347" width="48" height="15" fill="#fff" stroke="#15648f" stroke-width="2"/>
<rect x="110" y="394" width="48" height="15" fill="#fff" stroke="#15648f" stroke-width="2"/>
<rect x="337" y="455" width="48" height="16" fill="#fff" stroke="#15648f" stroke-width="2"/>
<rect x="361" y="513" width="48" height="15" fill="#fff" stroke="#15648f" stroke-width="2"/>
<rect x="536" y="585" width="60" height="15" fill="#fff" stroke="#15648f" stroke-width="2"/>
<text transform="translate(176.0 133.2) scale(1 1.07)" text-anchor="middle">51716</text>
<text transform="translate(176.0 149.1) scale(1 1.07)" text-anchor="middle">51715</text>
<text transform="translate(74.5 175.7) scale(1 1.07)" text-anchor="middle">51718</text>
<text transform="translate(121.0 208.7) scale(1 1.07)" text-anchor="middle">51720</text>
<text transform="translate(292.0 231.7) scale(1 1.07)" text-anchor="middle">54659</text>
<text transform="translate(347.0 249.2) scale(1 1.07)" text-anchor="middle">51756</text>
<text transform="translate(347.0 265.09999999999997) scale(1 1.07)" text-anchor="middle">51755</text>
<text transform="translate(522.0 359.7) scale(1 1.07)" text-anchor="middle">51712</text>
<text transform="translate(134.0 406.7) scale(1 1.07)" text-anchor="middle">51749</text>
<text transform="translate(361.0 468.7) scale(1 1.07)" text-anchor="middle">51752</text>
<text transform="translate(385.0 525.7) scale(1 1.07)" text-anchor="middle">51750</text>
<text transform="translate(566.0 597.7) scale(1 1.07)" text-anchor="middle">1220FS</text></g>
</svg>
</body></html>
